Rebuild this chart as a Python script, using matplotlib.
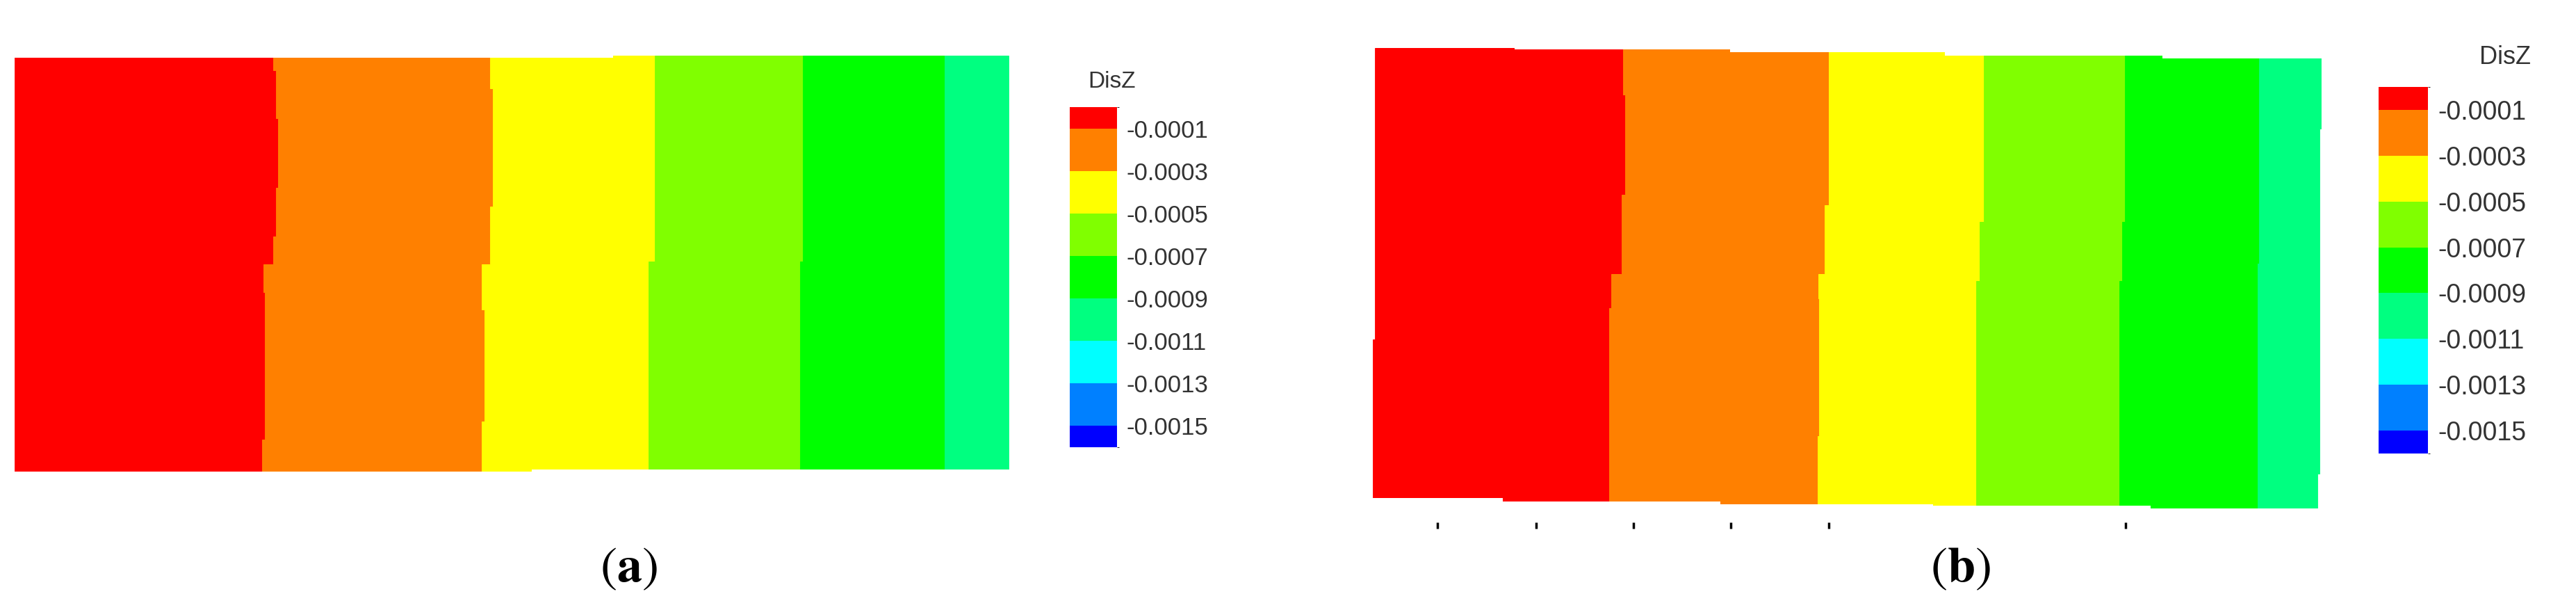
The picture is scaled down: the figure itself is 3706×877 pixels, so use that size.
import matplotlib
matplotlib.use("Agg")
import matplotlib.pyplot as plt
from matplotlib.colors import ListedColormap, BoundaryNorm
from matplotlib.cm import ScalarMappable
from matplotlib.patches import Polygon

plt.rcParams['font.family'] = ['Liberation Sans', 'DejaVu Sans']
plt.rcParams['mathtext.fontset'] = 'stix'

# legend levels of DisZ and the 9 band colours (bottom to top)
levels = [-0.0015, -0.0013, -0.0011, -0.0009, -0.0007, -0.0005, -0.0003, -0.0001]
band_colors = ['#0000ff', '#0080ff', '#00ffff', '#00ff80', '#00ff00',
               '#80ff00', '#ffff00', '#ff8000', '#ff0000']
legend_bounds = [-0.0016] + levels + [0.0]

# DisZ bands met in the field, left to right (a value inside each band)
field_bands = [-0.00005, -0.0002, -0.0004, -0.0006, -0.0008, -0.0010]

# (a) rows top->bottom, y in mm; each row: left edge, x of DisZ = -0.0001 .. -0.0009, right edge
a_row_y = [41.8, 40.3, 38.5, 35.5, 28.5, 26.6, 23.6, 21.1, 20.8, 18.0, 16.3, 5.0, 3.2, 0.0]
a_row_x = [
    [0, 26.0, 47.8, 64.4, 79.3, 93.6, 100],
    [0, 26.3, 47.8, 64.4, 79.3, 93.6, 100],
    [0, 26.3, 48.1, 64.4, 79.3, 93.6, 100],
    [0, 26.5, 48.1, 64.4, 79.3, 93.6, 100],
    [0, 26.3, 48.1, 64.4, 79.3, 93.6, 100],
    [0, 26.3, 47.8, 64.4, 79.3, 93.6, 100],
    [0, 26.0, 47.8, 64.4, 79.3, 93.6, 100],
    [0, 26.0, 47.8, 63.8, 79.0, 93.6, 100],
    [0, 25.0, 47.0, 63.8, 79.0, 93.6, 100],
    [0, 25.2, 47.0, 63.8, 79.0, 93.6, 100],
    [0, 25.2, 47.3, 63.8, 79.0, 93.6, 100],
    [0, 25.2, 47.0, 63.8, 79.0, 93.6, 100],
    [0, 24.9, 47.0, 63.8, 79.0, 93.6, 100],
]
a_top_x = [0, 60.2, 100]
a_top_y = [41.6, 41.8]
a_bot_x = [0, 52.0, 100]
a_bot_y = [0.0, 0.2]

# (b) same layout
b_row_y = [46.3, 41.61, 38.15, 31.56, 30.52, 28.78, 24.62, 23.59, 22.89, 21.15, 20.12, 17.0, 7.29, 3.48, 0.0]
b_row_x = [
    [0.21, 25.17, 45.87, 61.47, 75.66, 89.16, 95.38],
    [0.21, 25.38, 45.87, 61.47, 75.66, 89.16, 95.38],
    [0.21, 25.38, 45.87, 61.47, 75.66, 89.16, 95.24],
    [0.21, 25.03, 45.87, 61.47, 75.66, 89.16, 95.24],
    [0.21, 25.03, 45.45, 61.47, 75.66, 89.16, 95.24],
    [0.21, 25.03, 45.45, 61.05, 75.38, 89.16, 95.24],
    [0.21, 25.03, 45.45, 61.05, 75.38, 89.02, 95.24],
    [0.21, 23.99, 44.83, 61.05, 75.38, 89.02, 95.24],
    [0.21, 23.99, 44.83, 60.70, 75.10, 89.02, 95.24],
    [0.21, 23.99, 44.90, 60.70, 75.10, 89.02, 95.24],
    [0.21, 23.78, 44.90, 60.70, 75.10, 89.02, 95.24],
    [0.0, 23.78, 44.90, 60.70, 75.10, 89.02, 95.24],
    [0.0, 23.78, 44.76, 60.70, 75.10, 89.02, 95.24],
    [0.0, 23.78, 44.76, 60.70, 75.10, 89.02, 95.03],
]
b_top_x = [0, 14.27, 35.94, 57.55, 79.44, 95.4]
b_top_y = [46.29, 46.12, 45.85, 45.53, 45.25]
b_bot_x = [0, 13.08, 34.97, 56.36, 78.25, 95.4]
b_bot_y = [1.05, 0.70, 0.45, 0.25, 0.0]
b_marks_x = [6.5, 16.4, 26.2, 36.0, 45.9, 75.7]

W, H = 3706, 877
fig = plt.figure(figsize=(W / 100, H / 100), dpi=100)

cmap = ListedColormap(band_colors)
norm = BoundaryNorm(legend_bounds, cmap.N)


def px_axes(x0, y0, x1, y1):
    # figure pixel box (top-left origin) -> axes
    return fig.add_axes([x0 / W, 1 - y1 / H, (x1 - x0) / W, (y1 - y0) / H])


def outline(top_x, top_y, bot_x, bot_y):
    verts = []
    for i, y in enumerate(top_y):
        verts += [(top_x[i] - (1 if i == 0 else 0), y),
                  (top_x[i + 1] + (1 if i == len(top_y) - 1 else 0), y)]
    for i in range(len(bot_y) - 1, -1, -1):
        verts += [(bot_x[i + 1] + (1 if i == len(bot_y) - 1 else 0), bot_y[i]),
                  (bot_x[i] - (1 if i == 0 else 0), bot_y[i])]
    return verts


def draw_field(ax, row_y, row_x, top_x, top_y, bot_x, bot_y):
    clip = Polygon(outline(top_x, top_y, bot_x, bot_y), closed=True,
                   transform=ax.transData)
    for k, val in enumerate(field_bands):
        col = cmap(norm(val))
        xl = [r[k] for r in row_x]
        xr = [r[k + 1] for r in row_x]
        coll = ax.fill_betweenx(row_y, xl + [xl[-1]], xr + [xr[-1]], step='post',
                                facecolor=col, edgecolor=col, linewidth=0.6)
        coll.set_clip_path(clip)
    ax.set_axis_off()


def draw_legend(box, fontsize, title_xy):
    cax = px_axes(*box)
    cb = fig.colorbar(ScalarMappable(norm=norm, cmap=cmap), cax=cax,
                      spacing='proportional', ticks=levels)
    cb.outline.set_visible(False)
    cb.ax.set_yticklabels([f'{v:.4f}' for v in levels])
    cax.tick_params(length=0, pad=10, labelsize=fontsize, labelcolor='#333333')
    fig.text(title_xy[0] / W, 1 - title_xy[1] / H, 'DisZ', fontsize=fontsize - 1,
             color='#333333', ha='center', va='center')


ax_a = px_axes(21, 80, 1451, 678)
ax_a.set_xlim(0, 100)
ax_a.set_ylim(0, 41.8)
draw_field(ax_a, a_row_y, a_row_x, a_top_x, a_top_y, a_bot_x, a_bot_y)

ax_b = px_axes(1975, 69, 3339, 731)
ax_b.set_xlim(0, 95.38)
ax_b.set_ylim(0, 46.29)
draw_field(ax_b, b_row_y, b_row_x, b_top_x, b_top_y, b_bot_x, b_bot_y)
ax_b.vlines(b_marks_x, -2.0, -1.4, color='black', linewidth=2.5, clip_on=False)

draw_legend((1539, 154, 1607, 643), 25, (1600, 118))
draw_legend((3422, 125, 3493, 652), 27, (3604, 83))

fig.text(904 / W, 1 - 818 / H, r'$(\mathbf{a})$', fontsize=52, ha='center', va='center')
fig.text(2820 / W, 1 - 818 / H, r'$(\mathbf{b})$', fontsize=52, ha='center', va='center')

fig.savefig('out.png', dpi=100, facecolor='white')
